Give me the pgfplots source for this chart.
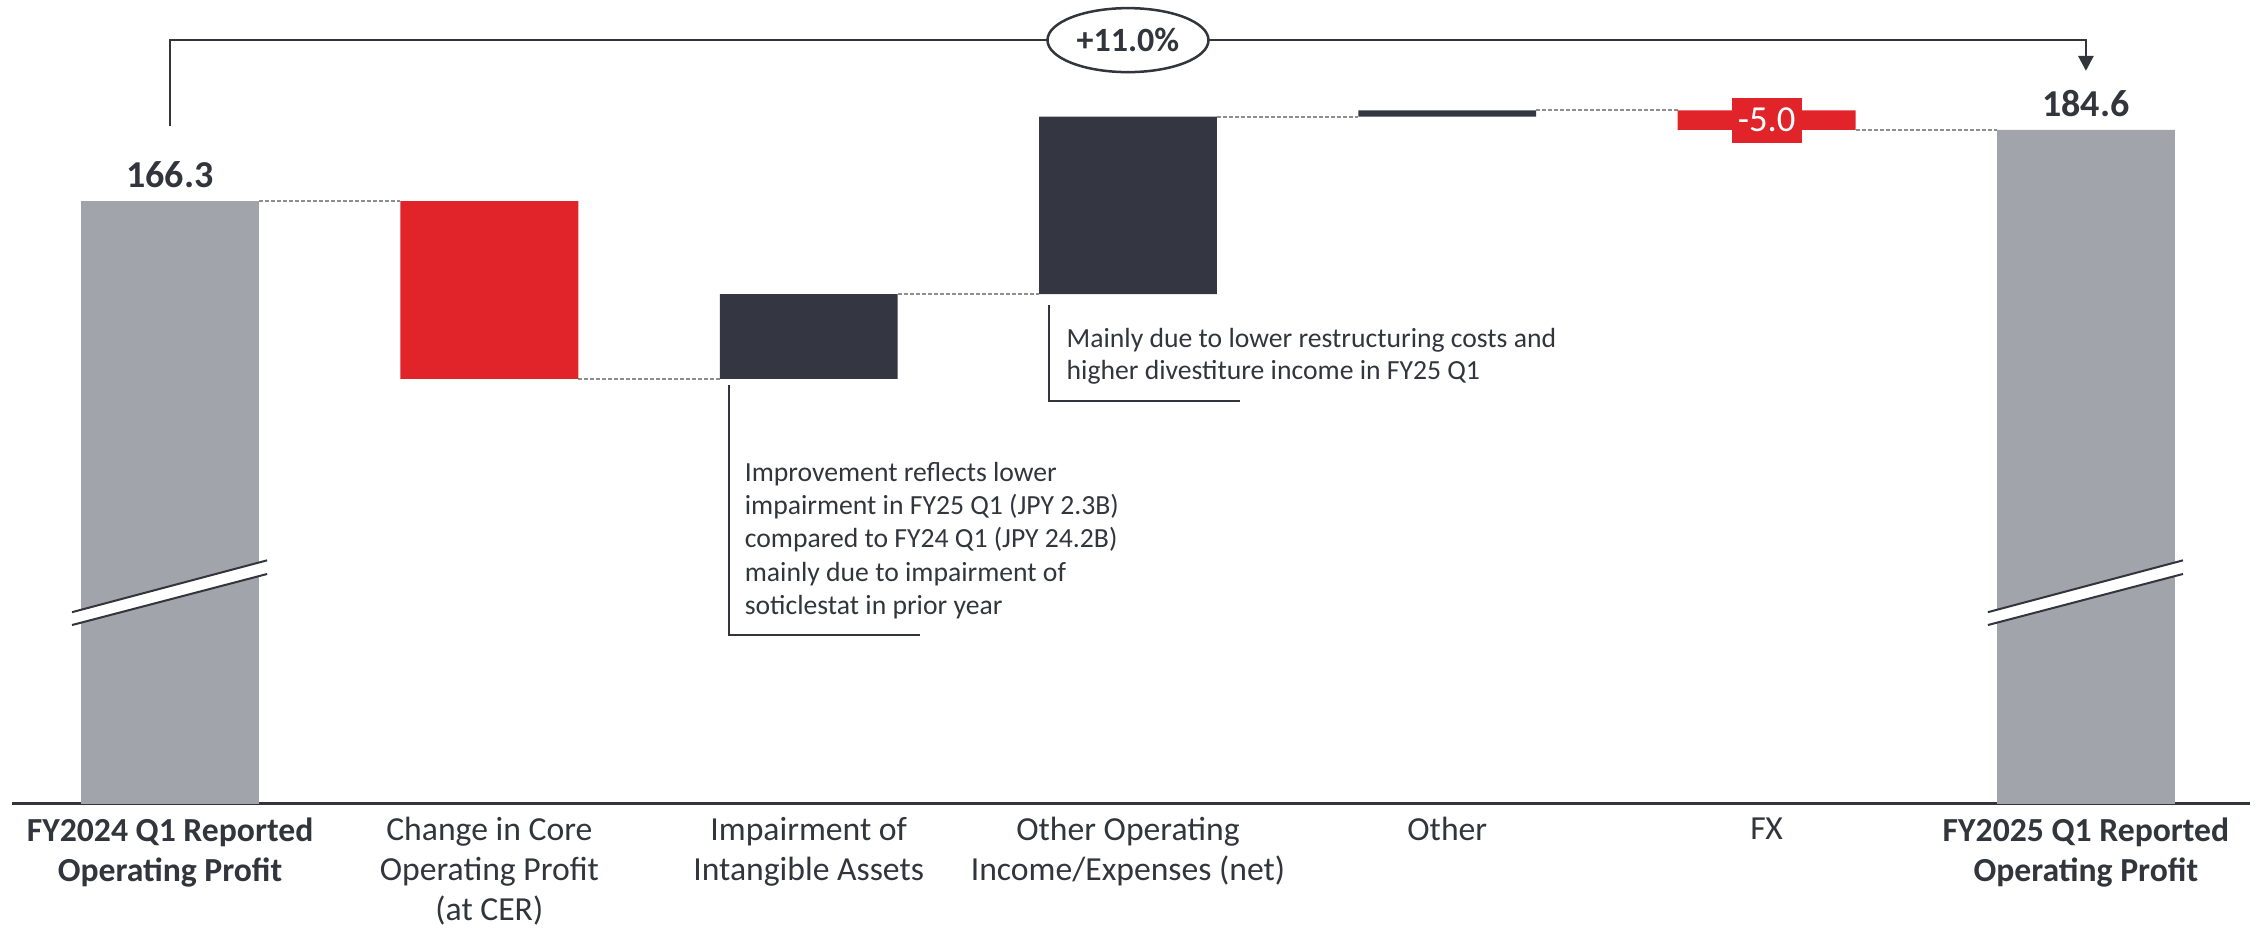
\documentclass[border=0pt]{standalone}
\usepackage{pgfplots}
\pgfplotsset{compat=1.18}
\usepackage{fontspec}
\setmainfont{Carlito}
\usetikzlibrary{shapes.geometric, arrows.meta}

\definecolor{barGray}{HTML}{A1A4AB}
\definecolor{barRed}{HTML}{E1232A}
\definecolor{barDark}{HTML}{343741}
\definecolor{ink}{HTML}{33353D}
\definecolor{dashGray}{HTML}{8E8E8E}

\tikzset{
  conn/.style={dashGray, line width=0.6pt, dash pattern=on 1.2pt off 0.6pt},
  note/.style={anchor=base west, inner sep=0pt, text=ink, font=\fontsize{8.3}{10}\selectfont},
}

% drawn on top of the bars, once the axis is finished
\newcommand{\overlay}{%
  % axis-break marks on the total bars
  \fill[white] (axis cs:-0.307,57.5) -- (axis cs:0.304,70.6) -- (axis cs:0.304,74.1) -- (axis cs:-0.307,60.8) -- cycle;
  \draw[ink, line width=0.6pt] (axis cs:-0.307,60.8) -- (axis cs:0.304,74.1);
  \draw[ink, line width=0.6pt] (axis cs:-0.307,57.5) -- (axis cs:0.304,70.6);
  \fill[white] (axis cs:5.693,57.5) -- (axis cs:6.304,70.6) -- (axis cs:6.304,74.1) -- (axis cs:5.693,60.8) -- cycle;
  \draw[ink, line width=0.6pt] (axis cs:5.693,60.8) -- (axis cs:6.304,74.1);
  \draw[ink, line width=0.6pt] (axis cs:5.693,57.5) -- (axis cs:6.304,70.6);
  % value labels
  \node[font=\fontsize{11.4}{13}\selectfont\bfseries, text=ink] at (axis cs:0,173.0) {166.3};
  \node[font=\fontsize{11.4}{13}\selectfont\bfseries, text=ink] at (axis cs:6,191.3) {184.6};
  \node[fill=barRed, text=white, minimum width=21pt, minimum height=13.5pt, inner sep=0pt,
        font=\fontsize{11}{12}\selectfont] at (axis cs:5,187.1) {-5.0};
  % growth bracket
  \draw[ink, line width=0.8pt, -{Triangle[width=4.5pt,length=4.5pt]}]
    (axis cs:0,185.6) -- (axis cs:0,207.6) -- (axis cs:6,207.6) -- (axis cs:6,199.7);
  \node[ellipse, draw=ink, line width=0.75pt, fill=white, minimum width=48.3pt,
        minimum height=19.2pt, inner sep=0pt, text=ink,
        font=\fontsize{10.2}{11}\selectfont\bfseries] at (axis cs:3,207.6) {+11.0\%};
}

\begin{document}
\begin{tikzpicture}
\begin{axis}[
  at={(0pt,0pt)}, anchor=south west,
  scale only axis, width=671.4pt, height=241.05pt,
  xmin=-0.495, xmax=6.514, ymin=11.7, ymax=217.9,
  ybar stacked, bar width=0.557,
  axis y line=none, axis x line*=bottom,
  axis line style={-, draw=ink, line width=0.9pt},
  xtick={0,1,2,3,4,5,6},
  xticklabels={
    {\textbf{FY2024 Q1 Reported}\\\textbf{Operating Profit}},
    {Change in Core\\Operating Profit\\(at CER)},
    {Impairment of\\Intangible Assets},
    {Other Operating\\Income/Expenses (net)},
    {Other},
    {FX},
    {\textbf{FY2025 Q1 Reported}\\\textbf{Operating Profit}}},
  major tick length=0pt,
  xtick style={draw=none},
  xticklabel style={font=\fontsize{10.1}{12}\selectfont, text=ink,
    align=center, anchor=north, inner sep=0pt, yshift=-4pt},
  clip mode=individual,
  after end axis/.code={\overlay},
]
% invisible offsets that float the bridge bars
\addplot[fill=none, draw=none] coordinates
  {(0,0) (1,120.7) (2,120.7) (3,142.4) (4,188.0) (5,184.6) (6,0)};
% reported totals
\addplot[fill=barGray, draw=none] coordinates
  {(0,166.3) (1,0) (2,0) (3,0) (4,0) (5,0) (6,184.6)};
% decreases
\addplot[fill=barRed, draw=none] coordinates
  {(0,0) (1,45.6) (2,0) (3,0) (4,0) (5,5.0) (6,0)};
% increases
\addplot[fill=barDark, draw=none] coordinates
  {(0,0) (1,0) (2,21.7) (3,45.6) (4,1.6) (5,0) (6,0)};

% connectors between bars
\draw[conn] (axis cs:0.2785,166.3) -- (axis cs:0.7215,166.3);
\draw[conn] (axis cs:1.2785,120.7) -- (axis cs:1.7215,120.7);
\draw[conn] (axis cs:2.2785,142.4) -- (axis cs:2.7215,142.4);
\draw[conn] (axis cs:3.2785,188.0) -- (axis cs:3.7215,188.0);
\draw[conn] (axis cs:4.2785,189.6) -- (axis cs:4.7215,189.6);
\draw[conn] (axis cs:5.2785,184.6) -- (axis cs:5.7215,184.6);

% commentary
\draw[ink, line width=0.6pt] (axis cs:1.749,119.1) -- (axis cs:1.749,54.9) -- (axis cs:2.349,54.9);
\node[note] at (axis cs:1.798,94.4) {Improvement reflects lower};
\node[note] at (axis cs:1.798,85.9) {impairment in FY25 Q1 (JPY 2.3B)};
\node[note] at (axis cs:1.798,77.3) {compared to FY24 Q1 (JPY 24.2B)};
\node[note] at (axis cs:1.798,68.8) {mainly due to impairment of};
\node[note] at (axis cs:1.798,60.2) {soticlestat in prior year};

\draw[ink, line width=0.6pt] (axis cs:2.753,139.6) -- (axis cs:2.753,115.0) -- (axis cs:3.351,115.0);
\node[note] at (axis cs:2.806,128.6) {Mainly due to lower restructuring costs and};
\node[note] at (axis cs:2.806,120.4) {higher divestiture income in FY25 Q1};
\end{axis}
\pgfresetboundingbox
\path (-3.6pt,-37.35pt) rectangle (675pt,241.05pt);
\end{tikzpicture}
\end{document}
